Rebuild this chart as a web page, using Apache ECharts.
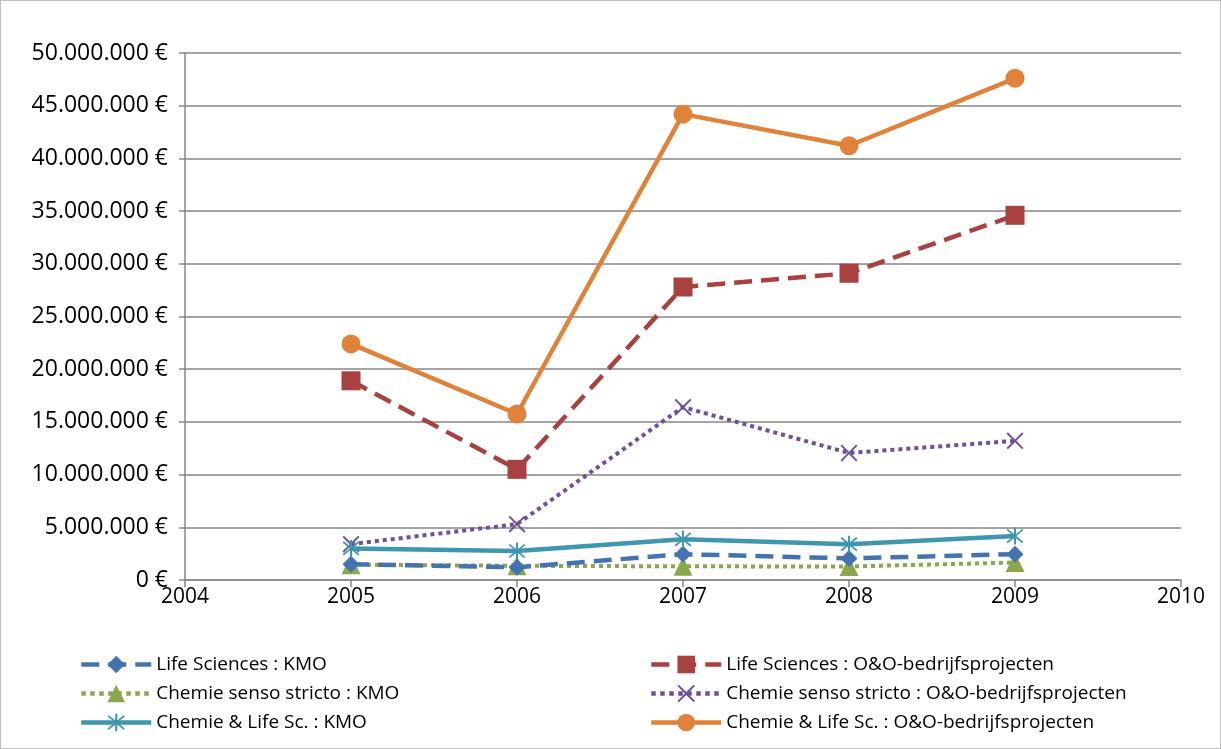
<!DOCTYPE html>
<html>
<head>
<meta charset="utf-8">
<script src="https://cdn.jsdelivr.net/npm/echarts@6/dist/echarts.min.js"></script>
<style>
  html, body { margin: 0; padding: 0; background: #fff; }
  #frame { position: absolute; left: 0; top: 0; width: 1219px; height: 747px; border: 1px solid #BFBFBF; }
  #chart { position: absolute; left: 0; top: 0; width: 1221px; height: 749px; }
</style>
</head>
<body>
<div id="frame"></div>
<div id="chart"></div>
<script>
// Years and funding amounts (EUR) per sector and programme
const years = [2005, 2006, 2007, 2008, 2009];
const lifeSciKMO      = [1500000, 1200000, 2450000, 2050000, 2450000];
const lifeSciOO       = [18900000, 10500000, 27800000, 29100000, 34600000];
const chemieKMO       = [1450000, 1350000, 1300000, 1280000, 1660000];
const chemieOO        = [3400000, 5300000, 16400000, 12050000, 13200000];
const chemLifeKMO     = [3000000, 2750000, 3860000, 3400000, 4170000];
const chemLifeOO      = [22400000, 15750000, 44200000, 41200000, 47600000];

const seriesNames = [
  'Life Sciences : KMO',
  'Life Sciences : O&O-bedrijfsprojecten',
  'Chemie senso stricto : KMO',
  'Chemie senso stricto : O&O-bedrijfsprojecten',
  'Chemie & Life Sc. : KMO',
  'Chemie & Life Sc. : O&O-bedrijfsprojecten'
];

const FONT = '"Open Sans", Lato, sans-serif';

// thin X glyph and asterisk glyph as filled outlines
const crossPath = 'path://M0,0.8L0.8,0L5,4.2L9.2,0L10,0.8L5.8,5L10,9.2L9.2,10L5,5.8L0.8,10L0,9.2L4.2,5Z';
const starPath = 'path://M0,0.8L0.8,0L5,4.2L9.2,0L10,0.8L5.8,5L10,9.2L9.2,10L5,5.8L0.8,10L0,9.2L4.2,5ZM4.4,-1L5.6,-1L5.6,11L4.4,11Z';

function pairs(vals) { return years.map((y, i) => [y, vals[i]]); }

function euro(v) {
  if (v === 0) return '0 €';
  return String(Math.round(v)).replace(/\B(?=(\d{3})+(?!\d))/g, '.') + ' €';
}

function makeSeries(name, vals, color, lineType, width, symbol, symbolSize, z) {
  return {
    name: name,
    type: 'line',
    data: pairs(vals),
    symbol: symbol,
    symbolSize: symbolSize,
    z: z,
    lineStyle: { color: color, width: width, type: lineType, cap: 'butt' },
    itemStyle: { color: color },
    emphasis: { disabled: true },
    animation: false
  };
}

const chart = echarts.init(document.getElementById('chart'), null, { renderer: 'canvas' });

const legendText = { fontFamily: FONT, fontSize: 19, color: '#000' };
const legendCommon = {
  orient: 'vertical', top: 650,
  itemWidth: 70, itemHeight: 22, itemGap: 10,
  textStyle: legendText, selectedMode: false,
  lineStyle: { width: 4.5 }
};

chart.setOption({
  backgroundColor: 'transparent',
  grid: { left: 185, right: 40, top: 53, bottom: 169, containLabel: false },
  xAxis: {
    type: 'value',
    min: 2004, max: 2010, interval: 1,
    axisLine: { show: true, lineStyle: { color: '#868686', width: 1.5 } },
    axisTick: { show: true, length: 7, lineStyle: { color: '#868686', width: 1.5 } },
    axisLabel: { color: '#000', fontFamily: FONT, fontSize: 21, margin: 7, formatter: v => String(v) },
    splitLine: { show: false }
  },
  yAxis: {
    type: 'value',
    min: 0, max: 50000000, interval: 5000000,
    axisLine: { show: true, lineStyle: { color: '#868686', width: 1.5 } },
    axisTick: { show: true, length: 6, lineStyle: { color: '#868686', width: 1.5 } },
    axisLabel: { color: '#000', fontFamily: FONT, fontSize: 23, margin: 17, formatter: euro },
    splitLine: { show: true, lineStyle: { color: '#868686', width: 1.5 } }
  },
  legend: [
    Object.assign({ data: [seriesNames[0], seriesNames[2], seriesNames[4]], left: 74 }, legendCommon),
    Object.assign({ data: [seriesNames[1], seriesNames[3], seriesNames[5]], left: 644 }, legendCommon)
  ],
  series: [
    makeSeries(seriesNames[0], lifeSciKMO, '#4573AE', 'dashed', 4.5, 'diamond', 17, 3),
    makeSeries(seriesNames[1], lifeSciOO, '#A8413F', 'dashed', 4.5, 'rect', 19, 4),
    makeSeries(seriesNames[2], chemieKMO, '#8BA74B', 'dotted', 4, 'triangle', 19, 2),
    makeSeries(seriesNames[3], chemieOO, '#6F4F98', 'dotted', 4, crossPath, 17, 5),
    makeSeries(seriesNames[4], chemLifeKMO, '#3F97AF', 'solid', 4.5, starPath, 17, 6),
    makeSeries(seriesNames[5], chemLifeOO, '#DF823A', 'solid', 4.5, 'circle', 19, 7)
  ]
});
</script>
</body>
</html>
